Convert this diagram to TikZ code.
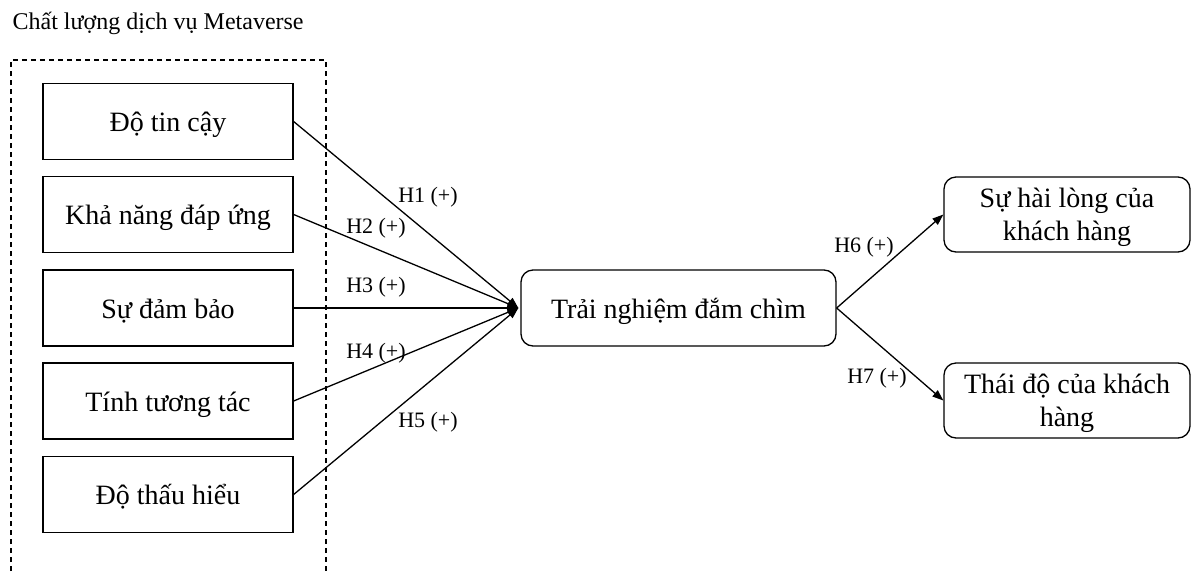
\documentclass[tikz,border=0pt]{standalone}
\usepackage{fontspec}
\setmainfont{Liberation Serif}
\usetikzlibrary{arrows.meta}
\begin{document}
\begin{tikzpicture}[x=1pt,y=-1pt,
  line width=1.3pt,
  factor/.style={draw, minimum width=250pt, minimum height=76pt, inner sep=0pt,
    text height=24pt, text depth=4pt, font=\fontsize{28}{33}\selectfont},
  roundbox/.style={draw, rounded corners=12pt, inner sep=0pt,
    font=\fontsize{28}{33}\selectfont, align=center},
  hyp/.style={font=\fontsize{22}{25}\selectfont, inner sep=0pt},
  arr/.style={-{Triangle[length=11pt,width=8pt]}}]
\useasboundingbox (0,0) rectangle (1191,571);

% group title and dashed frame (open at the bottom)
\node[anchor=west, font=\fontsize{24}{28}\selectfont, inner sep=0pt] (title) at (12,23) {Chất lượng dịch vụ Metaverse};
\draw[dash pattern=on 5pt off 4pt, line width=1.2pt] (11,571) -- (11,60) -- (326,60) -- (326,571);

% service quality dimensions
\node[factor] (b1) at (168,121.5) {Độ tin cậy};
\node[factor] (b2) at (168,214.5) {Khả năng đáp ứng};
\node[factor] (b3) at (168,308) {Sự đảm bảo};
\node[factor] (b4) at (168,401) {Tính tương tác};
\node[factor] (b5) at (168,494.5) {Độ thấu hiểu};

% mediator and outcomes
\node[roundbox, minimum width=315pt, minimum height=76pt, text height=24pt, text depth=4pt] (c) at (678.5,308) {Trải nghiệm đắm chìm};
\node[roundbox, minimum width=246pt, minimum height=75pt, text height=56pt, text depth=5pt] (o1) at (1067,214.5) {Sự hài lòng của\\khách hàng};
\node[roundbox, minimum width=246pt, minimum height=75pt, text height=56pt, text depth=5pt] (o2) at (1067,400.5) {Thái độ của khách\\hàng};

% paths
\coordinate (tip) at ([xshift=-2pt]c.west);
\foreach \b in {b1,b2,b3,b4,b5} \draw[arr] (\b.east) -- (tip);
\draw[arr] (c.east) -- (o1.west);
\draw[arr] (c.east) -- (o2.west);

% hypothesis labels
\node[hyp] (h1) at (428,197) {H1 (+)};
\node[hyp] (h2) at (376,228) {H2 (+)};
\node[hyp] (h3) at (376,287) {H3 (+)};
\node[hyp] (h4) at (376,353) {H4 (+)};
\node[hyp] (h5) at (428,422) {H5 (+)};
\node[hyp] (h6) at (864,247) {H6 (+)};
\node[hyp] (h7) at (877,378) {H7 (+)};
\end{tikzpicture}
\end{document}
